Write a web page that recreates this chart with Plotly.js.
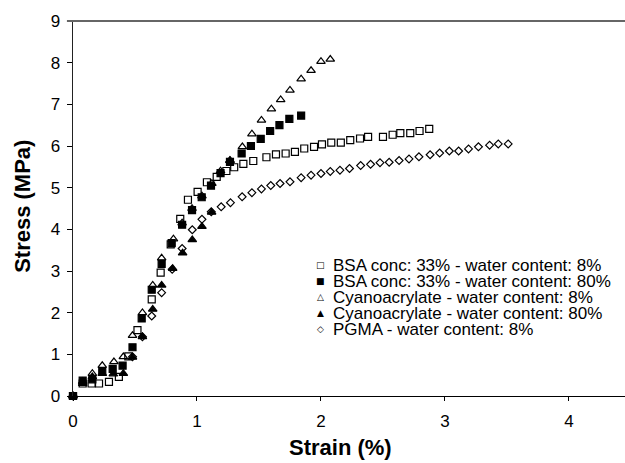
<!DOCTYPE html>
<html><head><meta charset="utf-8">
<script src="https://cdn.plot.ly/plotly-3.0.1.min.js"></script>
<style>html,body{margin:0;padding:0;background:#fff}#chart{width:625px;height:463px}</style>
</head><body><div id="chart"></div>
<script>
const seriesNames = [
  "BSA conc: 33% - water content: 8%",
  "BSA conc: 33% - water content: 80%",
  "Cyanoacrylate - water content: 8%",
  "Cyanoacrylate - water content: 80%",
  "PGMA - water content: 8%"
];
const legendGlyphs = ["\u25A1", "\u25A0", "\u25B3", "\u25B2", "\u25C7"];
const xTitle = "Strain (%)";
const yTitle = "Stress (MPa)";

const bsa8X = [0, 0.078, 0.15, 0.21, 0.29, 0.37, 0.446, 0.52, 0.635, 0.707, 0.788, 0.865, 0.927, 1.005, 1.08, 1.159, 1.237, 1.30, 1.374, 1.454, 1.56, 1.637, 1.715, 1.79, 1.865, 1.944, 2.008, 2.083, 2.16, 2.236, 2.315, 2.38, 2.50, 2.578, 2.64, 2.72, 2.795, 2.873];
const bsa8Y = [0, 0.30, 0.30, 0.30, 0.34, 0.46, 0.95, 1.58, 2.32, 2.96, 3.64, 4.25, 4.71, 4.90, 5.13, 5.26, 5.40, 5.49, 5.57, 5.64, 5.73, 5.80, 5.82, 5.86, 5.94, 5.98, 6.04, 6.08, 6.08, 6.14, 6.18, 6.22, 6.22, 6.27, 6.31, 6.31, 6.36, 6.41];

const bsa80X = [0, 0.078, 0.156, 0.236, 0.32, 0.40, 0.48, 0.554, 0.635, 0.715, 0.796, 0.88, 0.96, 1.038, 1.113, 1.19, 1.266, 1.36, 1.435, 1.514, 1.59, 1.665, 1.745, 1.84];
const bsa80Y = [0, 0.37, 0.40, 0.58, 0.65, 0.73, 1.17, 1.86, 2.55, 3.17, 3.67, 4.11, 4.46, 4.77, 5.05, 5.35, 5.62, 5.82, 6.00, 6.17, 6.36, 6.50, 6.65, 6.73];

const cyano8X = [0, 0.078, 0.156, 0.236, 0.33, 0.406, 0.48, 0.56, 0.643, 0.715, 0.81, 0.88, 0.96, 1.04, 1.12, 1.19, 1.266, 1.366, 1.443, 1.52, 1.60, 1.675, 1.75, 1.84, 1.92, 2.00, 2.075];
const cyano8Y = [0, 0.35, 0.54, 0.73, 0.82, 0.94, 1.45, 2.00, 2.66, 3.31, 3.77, 4.15, 4.50, 4.80, 5.10, 5.40, 5.65, 5.98, 6.29, 6.62, 6.89, 7.11, 7.34, 7.61, 7.81, 8.03, 8.08];

const cyano80X = [0, 0.078, 0.156, 0.236, 0.325, 0.406, 0.48, 0.56, 0.643, 0.715, 0.804, 0.884, 0.962, 1.04, 1.118, 1.266];
const cyano80Y = [0, 0.30, 0.46, 0.54, 0.53, 0.54, 0.93, 1.42, 2.08, 2.66, 3.06, 3.43, 3.75, 4.07, 4.41, 5.65];

const pgmaX = [0, 0.48, 0.56, 0.635, 0.715, 0.80, 0.88, 0.962, 1.04, 1.115, 1.195, 1.27, 1.364, 1.443, 1.52, 1.595, 1.67, 1.75, 1.84, 1.92, 2.0, 2.075, 2.153, 2.23, 2.32, 2.40, 2.476, 2.55, 2.63, 2.71, 2.79, 2.88, 2.957, 3.035, 3.11, 3.19, 3.27, 3.36, 3.43, 3.51];
const pgmaY = [0, 0.94, 1.42, 1.92, 2.48, 3.04, 3.54, 3.99, 4.24, 4.42, 4.54, 4.64, 4.78, 4.88, 4.97, 5.05, 5.10, 5.14, 5.24, 5.30, 5.34, 5.39, 5.42, 5.46, 5.53, 5.56, 5.60, 5.61, 5.65, 5.69, 5.74, 5.79, 5.83, 5.88, 5.88, 5.93, 5.98, 6.02, 6.05, 6.05];

const xTicks = [0, 1, 2, 3, 4];
const yTicks = [0, 1, 2, 3, 4, 5, 6, 7, 8, 9];

const FONT = "Liberation Sans, Arial, Helvetica, sans-serif";

function mk(x, y, name, symbol, size) {
  return {
    type: "scatter", mode: "markers", x: x, y: y, name: name,
    cliponaxis: false, showlegend: false,
    marker: { symbol: symbol, size: size, color: "#000", line: { color: "#000", width: 1.2 } }
  };
}

const data = [
  mk(bsa8X, bsa8Y, seriesNames[0], "square-open", 7),
  mk(bsa80X, bsa80Y, seriesNames[1], "square", 7),
  mk(cyano8X, cyano8Y, seriesNames[2], "triangle-up-open", 7.5),
  mk(cyano80X, cyano80Y, seriesNames[3], "triangle-up", 7.5),
  mk(pgmaX, pgmaY, seriesNames[4], "diamond-open", 6)
];

// legend rows (layout positions in paper space)
const legRowY = [0.3488, 0.3061, 0.2635, 0.2205, 0.1779];
const annotations = [];
seriesNames.forEach((n, i) => {
  annotations.push({
    xref: "paper", yref: "paper", x: 0.4475, y: legRowY[i],
    xanchor: "center", yanchor: "middle", showarrow: false,
    text: legendGlyphs[i], font: { family: "DejaVu Sans", size: 9, color: "#000" }
  });
  annotations.push({
    xref: "paper", yref: "paper", x: 0.4665, y: legRowY[i],
    xanchor: "left", yanchor: "middle", showarrow: false,
    text: n, font: { family: FONT, size: 17, color: "#000" }
  });
});
annotations.push({
  xref: "paper", yref: "paper", x: 0.4837, y: -0.099,
  xanchor: "center", yanchor: "top", showarrow: false,
  text: "<b>" + xTitle + "</b>", font: { family: FONT, size: 22, color: "#000" }
});
annotations.push({
  xref: "paper", yref: "paper", x: -0.0906, y: 0.507,
  xanchor: "center", yanchor: "middle", showarrow: false, textangle: -90,
  text: "<b>" + yTitle + "</b>", font: { family: FONT, size: 22, color: "#000" }
});

const layout = {
  width: 625, height: 463,
  margin: { l: 73, r: 0, t: 21, b: 67, pad: 0 },
  paper_bgcolor: "#fff", plot_bgcolor: "#fff",
  showlegend: false,
  font: { family: FONT, size: 17, color: "#000" },
  xaxis: {
    range: [0, 4.452], tickvals: xTicks, ticktext: xTicks.map(String),
    showgrid: false, zeroline: false, showline: true, linecolor: "#000", linewidth: 1.2,
    ticks: "outside", ticklen: 4, tickwidth: 1, tickcolor: "#000", ticklabelstandoff: 5,
    tickfont: { family: FONT, size: 17, color: "#000" }, automargin: false, fixedrange: true
  },
  yaxis: {
    range: [0, 9], tickvals: yTicks, ticktext: yTicks.map(String),
    showgrid: false, zeroline: false, showline: true, linecolor: "#222", linewidth: 1.5,
    ticks: "outside", ticklen: 5, tickwidth: 1, tickcolor: "#000", ticklabelstandoff: 3,
    tickfont: { family: FONT, size: 17, color: "#000" }, automargin: false, fixedrange: true
  },
  shapes: [{
    type: "line", xref: "paper", yref: "paper", x0: -0.011, x1: 1, y0: 1, y1: 1,
    line: { color: "#666", width: 2 }
  }],
  annotations: annotations
};

Plotly.newPlot("chart", data, layout, { displayModeBar: false, staticPlot: true });
</script>
</body></html>
